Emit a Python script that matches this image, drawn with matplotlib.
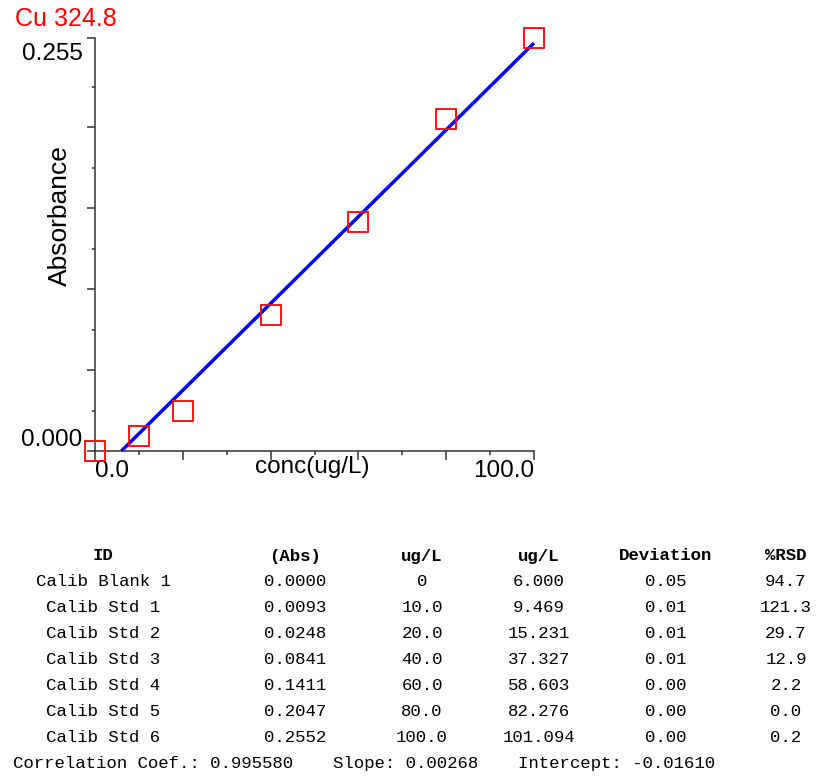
import matplotlib
matplotlib.use("Agg")
import matplotlib.pyplot as plt
import matplotlib.transforms as mtransforms
import numpy as np

# calibration curve for Cu 324.8 with the results table under it

# data
sample_ids = ['Calib Blank 1', 'Calib Std 1', 'Calib Std 2', 'Calib Std 3',
              'Calib Std 4', 'Calib Std 5', 'Calib Std 6']
absorbance = [0.0000, 0.0093, 0.0248, 0.0841, 0.1411, 0.2047, 0.2552]
conc_std = [0, 10.0, 20.0, 40.0, 60.0, 80.0, 100.0]
conc_found = [6.000, 9.469, 15.231, 37.327, 58.603, 82.276, 101.094]
deviation = [0.05, 0.01, 0.01, 0.01, 0.00, 0.00, 0.00]
rsd = [94.7, 121.3, 29.7, 12.9, 2.2, 0.0, 0.2]
headers = ['ID', '(Abs)', 'ug/L', 'ug/L', 'Deviation', '%RSD']
corr_coef = 0.995580
slope = 0.00268
intercept = -0.01610

W, H = 816, 781

def fx(px):
    return px / W

def fy(py):
    return 1 - py / H

plt.rcParams['font.family'] = ['Liberation Sans', 'DejaVu Sans']

fig = plt.figure(figsize=(W / 100, H / 100), dpi=100)
ax = fig.add_axes([fx(95), fy(451), 439 / W, 413 / H])

# fitted line from intercept up to the top standard
x0 = -intercept / slope
xfit = np.array([x0, max(conc_std)])
ax.plot(xfit, slope * xfit + intercept, color='#0000ff', lw=2.5,
        solid_capstyle='butt', clip_on=False, zorder=2)
ax.plot(conc_std, absorbance, ls='none', marker='s', ms=14.5,
        mfc='none', mec='#ff0000', mew=1.3, clip_on=False, zorder=3)

ax.set_xlim(0, 100)
ax.set_ylim(0, 0.255)

for side in ['top', 'right']:
    ax.spines[side].set_visible(False)
for side in ['left', 'bottom']:
    ax.spines[side].set_color('#333333')
    ax.spines[side].set_linewidth(1.1)

ax.set_yticks([0, 0.05, 0.1, 0.15, 0.2, 0.255],
              labels=['0.000', '', '', '', '', '0.255'])
ax.set_yticks(np.arange(0.025, 0.24, 0.05), minor=True)
ax.set_xticks([0, 20, 40, 60, 80, 100],
              labels=['0.0', '', '', '', '', '100.0'])
ax.set_xticks(np.arange(10, 100, 20), minor=True)

ax.tick_params(which='both', color='#333333', width=1.1, labelsize=17.5)
ax.tick_params(axis='y', which='major', length=6, pad=3)
ax.tick_params(axis='y', which='minor', length=2.5)
ax.tick_params(axis='x', which='major', length=6.5, pad=0)
ax.tick_params(axis='x', which='minor', length=3)

ylabs = ax.get_yticklabels()
ylabs[0].set_va('bottom')
ylabs[-1].set_va('top')
# the top label sits a little below its tick in the original
down = mtransforms.ScaledTranslation(0, -5 / 100, fig.dpi_scale_trans)
ylabs[-1].set_transform(ylabs[-1].get_transform() + down)
xlabs = ax.get_xticklabels()
xlabs[0].set_ha('left')
xlabs[-1].set_ha('right')

ax.set_ylabel('Absorbance', fontsize=19, va='center')
ax.yaxis.set_label_coords((60 - 95) / 439, (451 - 216) / 413)
ax.set_xlabel('conc(ug/L)', fontsize=17.5, va='center')
ax.xaxis.set_label_coords((312 - 95) / 439, (451 - 467) / 413)

fig.text(fx(15), fy(19), 'Cu 324.8', color='#ff0000', fontsize=18,
         ha='left', va='center')

# ***table***
mono = 'Liberation Mono'
col_x = [103, 295, 422, 539, 666, 786]
row0 = 556
pitch = 25.9

for cx, h in zip(col_x, headers):
    fig.text(fx(cx), fy(row0), h, family=mono, fontsize=12.5,
             fontweight='bold', ha='center', va='center')

for i in range(len(sample_ids)):
    y = fy(row0 + pitch * (i + 1))
    c = conc_std[i]
    cells = [sample_ids[i], f'{absorbance[i]:.4f}',
             '0' if c == 0 else f'{c:.1f}', f'{conc_found[i]:.3f}',
             f'{deviation[i]:.2f}', f'{rsd[i]:.1f}']
    for cx, s in zip(col_x, cells):
        fig.text(fx(cx), y, s, family=mono, fontsize=12.5,
                 ha='center', va='center')

yfoot = fy(row0 + pitch * (len(sample_ids) + 1))
fig.text(fx(13), yfoot, f'Correlation Coef.: {corr_coef:.6f}', family=mono,
         fontsize=12.5, ha='left', va='center')
fig.text(fx(333), yfoot, f'Slope: {slope:.5f}', family=mono,
         fontsize=12.5, ha='left', va='center')
fig.text(fx(518), yfoot, f'Intercept: {intercept:.5f}', family=mono,
         fontsize=12.5, ha='left', va='center')

fig.savefig('out.png', dpi=100)
